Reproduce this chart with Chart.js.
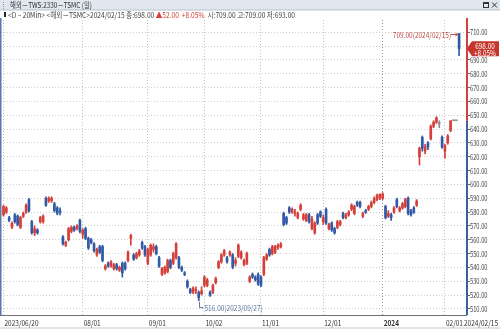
<!DOCTYPE html>
<html>
<head>
<meta charset="utf-8">
<script src="https://cdn.jsdelivr.net/npm/chart.js@4.4.1/dist/chart.umd.min.js"></script>
<style>
  html, body { margin: 0; padding: 0; background: #fff; overflow: hidden; }
  canvas { display: block; }
</style>
</head>
<body>
<canvas id="myChart" width="500" height="329"></canvas>
<script>
  // daily candles, 2023/06/20 .. 2024/02/15 (trading-day index on x)
  const opens = [
    578, 580, 576, 569, 578, 577, 569, 577, 580, 589, 573, 565, 567, 573, 573, 590, 588, 588, 586, 583,
    581, 562, 556, 560, 566, 569, 568, 574, 564, 568, 561, 560, 557, 549, 555, 555, 539, 543, 541, 539,
    542, 538, 543, 543, 545, 561, 549, 547, 549, 558, 555, 543, 549, 553, 555, 547, 535, 536, 537, 545,
    543, 547, 547, 540, 536, 530, 524, 522, 523, 522, 521, 527, 527, 522, 522, 529, 540, 544, 549, 547,
    549, 549, 543, 548, 547, 542, 543, 530, 535, 533, 535, 533, 535, 546, 553, 550, 551, 554, 555, 579,
    576, 583, 580, 579, 576, 582, 575, 574, 578, 568, 565, 578, 580, 573, 582, 568, 572, 568, 569, 571,
    579, 576, 578, 582, 579, 587, 587, 577, 581, 582, 584, 587, 589, 590, 590, 584, 577, 578, 580, 589,
    581, 583, 584, 590, 581, 583, 585, 620, 634, 624, 630, 633, 642, 645, 644, 634, 624, 630, 639, 646,
    646, 709
  ];
  const highs = [
    585, 584, 577, 573, 579, 578, 577, 580, 586, 590, 574, 570, 568, 577, 578, 591, 591, 591, 587, 584,
    583, 563, 559, 569, 570, 570, 571, 575, 568, 569, 562, 561, 558, 554, 556, 556, 542, 544, 545, 543,
    543, 541, 544, 544, 552, 564, 550, 551, 553, 559, 556, 554, 557, 557, 556, 548, 540, 541, 546, 546,
    551, 558, 548, 541, 537, 531, 525, 526, 526, 523, 526, 534, 532, 523, 528, 533, 545, 550, 553, 548,
    552, 550, 547, 557, 552, 546, 551, 534, 536, 534, 536, 534, 548, 550, 554, 556, 556, 557, 558, 580,
    577, 584, 583, 582, 580, 586, 579, 579, 579, 577, 573, 579, 581, 578, 583, 572, 573, 569, 574, 574,
    580, 579, 581, 586, 585, 588, 588, 580, 582, 585, 588, 591, 593, 593, 594, 585, 581, 579, 584, 590,
    584, 587, 590, 591, 582, 584, 589, 627, 635, 629, 631, 643, 646, 649, 646, 635, 629, 636, 646, 646,
    646, 709
  ];
  const lows = [
    577, 579, 573, 568, 572, 570, 568, 576, 579, 580, 564, 563, 564, 572, 572, 584, 587, 587, 580, 578,
    578, 556, 555, 559, 565, 566, 567, 565, 561, 560, 553, 557, 551, 548, 550, 544, 538, 540, 540, 538,
    538, 537, 533, 538, 544, 556, 545, 546, 548, 553, 548, 542, 548, 551, 549, 540, 534, 535, 536, 539,
    542, 546, 539, 537, 534, 525, 521, 521, 521, 516, 520, 526, 526, 519, 521, 528, 539, 543, 548, 543,
    548, 539, 541, 547, 546, 541, 542, 529, 532, 530, 527, 526, 534, 545, 548, 549, 550, 553, 554, 570,
    571, 579, 579, 577, 575, 581, 574, 573, 572, 567, 564, 571, 576, 571, 571, 567, 566, 564, 568, 570,
    575, 575, 577, 581, 578, 584, 583, 576, 579, 581, 583, 586, 588, 589, 589, 575, 576, 574, 579, 583,
    580, 582, 583, 578, 577, 579, 584, 614, 624, 622, 625, 632, 641, 644, 641, 626, 619, 629, 638, 646,
    646, 693
  ];
  const closes = [
    584, 583, 574, 572, 573, 571, 576, 579, 585, 581, 565, 568, 565, 576, 577, 585, 590, 590, 581, 579,
    580, 557, 558, 568, 569, 567, 570, 566, 567, 561, 554, 558, 552, 553, 551, 545, 541, 541, 544, 542,
    539, 540, 536, 539, 551, 563, 546, 550, 552, 554, 549, 553, 556, 555, 550, 541, 539, 540, 545, 540,
    550, 557, 540, 538, 535, 526, 522, 525, 524, 518, 523, 533, 531, 520, 527, 532, 544, 549, 552, 544,
    551, 540, 545, 556, 551, 545, 550, 533, 533, 531, 528, 527, 547, 549, 549, 555, 555, 556, 557, 571,
    572, 580, 582, 580, 579, 585, 578, 578, 573, 575, 572, 572, 577, 576, 572, 571, 567, 565, 573, 573,
    576, 578, 580, 585, 584, 585, 584, 579, 580, 584, 587, 590, 592, 593, 593, 576, 579, 576, 583, 584,
    583, 586, 589, 579, 578, 580, 588, 626, 626, 627, 627, 642, 645, 648, 644, 627, 628, 635, 646, 646,
    646, 698
  ];

  const xTickIndex = [0, 28, 51, 71, 91, 113, 134, 156, 161];
  const xTickLabels = ['2023/06/20', '08/01', '09/01', '10/02', '11/01', '12/01', '2024', '02/01', '2024/02/15'];
  const yTickValues = [510, 520, 530, 540, 550, 560, 570, 580, 590, 600, 610, 620, 630, 640, 650, 660, 670, 680, 690, 700, 710];

  const titleText = '해외－TWS:2330－TSMC (일)';
  const infoPrefix = '<D – 20Min> <해외－TSMC>';
  const lastDate = '2024/02/15';
  const lowDate = '2023/09/27';

  const RED = '#d5403a';
  const BLUE = '#3159a6';
  const FONT = '"Liberation Sans Narrow", "Noto Sans CJK KR", "Liberation Sans", sans-serif';

  const last = closes.length - 1;
  const prevClose = closes[last - 1];
  const change = closes[last] - prevClose;
  const changePct = change / prevClose * 100;

  const candleColor = opens.map((o, i) => closes[i] > o ? RED : (closes[i] < o ? BLUE : '#8c8c8c'));

  // draws text pieces in a row, squeezed to the given width
  function drawFitted(c, parts, x, y, width, font) {
    c.font = font;
    const total = parts.reduce((s, p) => s + c.measureText(p[0]).width, 0);
    c.save();
    c.translate(x, y);
    c.scale(width / total, 1);
    let cx = 0;
    parts.forEach(p => {
      c.fillStyle = p[1];
      c.fillText(p[0], cx, 0);
      cx += c.measureText(p[0]).width;
    });
    c.restore();
  }

  // one label, squeezed horizontally by k
  function squeezed(c, text, x, y, k, align) {
    c.save();
    c.translate(x, y);
    c.scale(k, 1);
    c.textAlign = align;
    c.fillText(text, 0, 0);
    c.restore();
  }

  const chrome = {
    id: 'chrome',
    beforeDraw(chart) {
      const c = chart.ctx;
      c.save();
      c.fillStyle = '#fff';
      c.fillRect(0, 0, chart.width, chart.height);
      c.fillStyle = '#e1e7ee';
      c.fillRect(0, 0, chart.width, 10);
      c.fillStyle = '#b7c1cc';
      c.fillRect(0, 9.5, chart.width, 1);
      c.fillStyle = '#8a96a3';
      for (let y = 2; y < 9; y += 2) c.fillRect(3, y, 1, 1);
      c.textBaseline = 'middle';
      c.textAlign = 'left';
      drawFitted(c, [[titleText, '#333']], 10, 5.2, 82, '8px ' + FONT);

      c.strokeStyle = '#333';
      c.lineWidth = 1;
      c.strokeRect(483.5, 2.5, 5, 5);
      c.fillStyle = '#333';
      c.fillRect(483.5, 2.5, 5, 1.5);
      c.beginPath();
      c.moveTo(492, 2.5); c.lineTo(497, 7.5);
      c.moveTo(497, 2.5); c.lineTo(492, 7.5);
      c.stroke();

      c.fillStyle = '#222';
      c.fillRect(4, 12, 2, 5);
      drawFitted(c, [
        [infoPrefix + lastDate + ' 종:' + closes[last].toFixed(2) + ' ', '#444'],
        ['▲' + change.toFixed(2) + '  ', RED],
        ['+' + changePct.toFixed(2) + '% ', RED],
        [' 시:' + opens[last].toFixed(2) + ' 고:' + highs[last].toFixed(2) + ' 저:' + lows[last].toFixed(2), '#444']
      ], 8, 14.7, 287, '8px ' + FONT);
      c.restore();
    },
    afterDraw(chart) {
      const c = chart.ctx;
      const {right, top, bottom} = chart.chartArea;
      const xs = chart.scales.x, ys = chart.scales.y;
      c.save();

      c.fillStyle = '#5a79ad';
      c.fillRect(0, top - 2, 1.5, bottom - top + 2);

      const yPrev = ys.getPixelForValue(prevClose);
      c.fillStyle = RED;
      c.fillRect(right - 1, top - 2, 2, yPrev - top + 2);
      c.fillStyle = '#3e5f9d';
      c.fillRect(right - 1, yPrev, 2, bottom - yPrev);

      c.fillStyle = '#6f6f6f';
      c.fillRect(0, bottom, right, 1);
      c.fillStyle = '#c8c8c8';
      c.fillRect(0, chart.height - 1.5, chart.width, 1);

      c.textBaseline = 'middle';

      // y axis labels
      c.fillStyle = '#444';
      c.font = '8px ' + FONT;
      const ky = 17.5 / c.measureText('710.00').width;
      yTickValues.forEach(v => {
        squeezed(c, v.toFixed(2), right + 3, ys.getPixelForValue(v), ky, 'left');
      });

      // x axis labels
      c.fillStyle = '#333';
      c.font = '8px ' + FONT;
      const kx = 34 / c.measureText('2023/06/20').width;
      xTickIndex.forEach((v, k) => {
        const lbl = xTickLabels[k];
        const end = k === xTickIndex.length - 1;
        c.font = (lbl === '2024' ? 'bold ' : '') + '8px ' + FONT;
        squeezed(c, lbl, end ? 498 : xs.getPixelForValue(v) + 1, bottom + 7.5, kx, end ? 'right' : 'left');
      });

      // highest point marker
      const hi = highs.indexOf(Math.max(...highs));
      const xh = xs.getPixelForValue(hi), yh = Math.round(ys.getPixelForValue(highs[hi])) + 0.5;
      c.strokeStyle = '#c0504d';
      c.fillStyle = '#c0504d';
      c.lineWidth = 1;
      c.beginPath(); c.moveTo(xh - 8, yh); c.lineTo(xh - 1, yh); c.stroke();
      c.beginPath(); c.moveTo(xh - 1, yh); c.lineTo(xh - 3.5, yh - 2); c.lineTo(xh - 3.5, yh + 2); c.fill();
      c.font = '8px ' + FONT;
      squeezed(c, highs[hi].toFixed(2) + '(' + lastDate + ')', xh - 8, yh, kx, 'right');

      // lowest point marker
      const lo = lows.indexOf(Math.min(...lows));
      const xl = Math.round(xs.getPixelForValue(lo)) + 0.5, yl = ys.getPixelForValue(lows[lo]);
      c.strokeStyle = '#5b7aa0';
      c.fillStyle = '#5b7aa0';
      c.beginPath(); c.moveTo(xl, yl + 1); c.lineTo(xl, yl + 7); c.lineTo(xl + 4, yl + 7); c.stroke();
      squeezed(c, lows[lo].toFixed(2) + '(' + lowDate + ')', xl + 5, yl + 7, kx, 'left');

      // current price tag
      const yc = ys.getPixelForValue(closes[last]);
      c.fillStyle = '#c4352c';
      c.beginPath();
      c.moveTo(right, yc);
      c.lineTo(right + 5, yc - 7.5);
      c.lineTo(499, yc - 7.5);
      c.lineTo(499, yc + 7.5);
      c.lineTo(right + 5, yc + 7.5);
      c.closePath();
      c.fill();
      c.fillStyle = '#fff';
      c.font = '8px ' + FONT;
      const kt = 22 / c.measureText('+8.05%').width;
      squeezed(c, closes[last].toFixed(2), 485, yc - 3.3, kt, 'center');
      squeezed(c, '+' + changePct.toFixed(2) + '%', 485, yc + 3.8, kt, 'center');
      c.restore();
    }
  };

  const ctx = document.getElementById('myChart').getContext('2d');

  const myChart = new Chart(ctx, {
    type: 'bar',
    data: {
      datasets: [{
        data: opens.map((o, i) => ({x: i, y: [o, closes[i]]})),
        backgroundColor: candleColor,
        barThickness: 2,
        minBarLength: 1,
        grouped: false,
        order: 1
      }, {
        data: lows.map((l, i) => ({x: i, y: [l, highs[i]]})),
        backgroundColor: candleColor,
        barThickness: 1,
        grouped: false,
        order: 2
      }]
    },
    options: {
      responsive: false,
      animation: false,
      layout: {
        padding: {left: 1, top: 20, right: 0, bottom: 0}
      },
      plugins: {
        legend: {display: false},
        tooltip: {enabled: false}
      },
      scales: {
        x: {
          type: 'linear',
          min: -0.88,
          max: 163.8,
          offset: false,
          afterBuildTicks: s => { s.ticks = xTickIndex.slice(0, -1).map(v => ({value: v})); },
          afterFit: s => { s.height = 14; },
          ticks: {display: false},
          grid: {
            offset: false,
            drawTicks: false,
            color: c => c.tick && c.tick.value === 134 ? '#8f8f8f' : '#c4c4c4'
          },
          border: {display: false, dash: [1, 2]}
        },
        y: {
          position: 'right',
          min: 505.6,
          max: 718.8,
          beginAtZero: false,
          afterBuildTicks: s => { s.ticks = yTickValues.map(v => ({value: v})); },
          afterFit: s => { s.width = 33; },
          ticks: {display: false},
          grid: {
            color: '#cdcdcd',
            tickLength: 3,
            tickColor: '#666'
          },
          border: {display: false, dash: [1, 2]}
        }
      }
    },
    plugins: [chrome]
  });
</script>
</body>
</html>
